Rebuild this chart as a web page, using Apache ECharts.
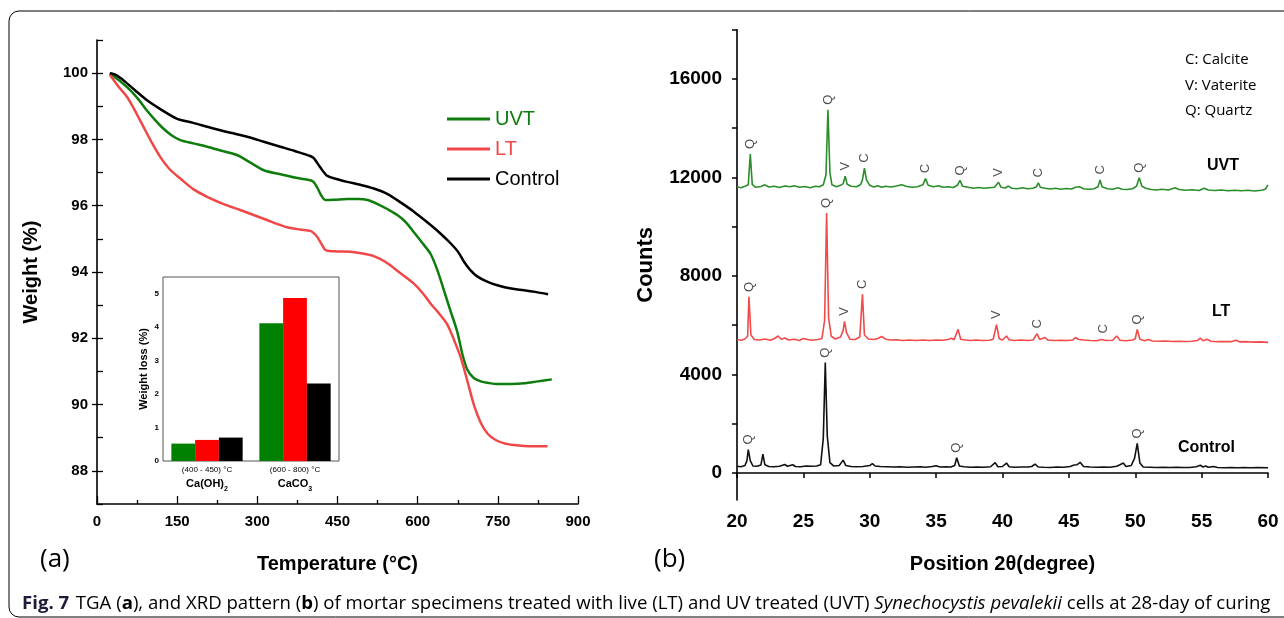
<!DOCTYPE html>
<html>
<head>
<meta charset="utf-8">
<script src="https://cdn.jsdelivr.net/npm/echarts@6/dist/echarts.min.js"></script>
<style>html,body{margin:0;padding:0;background:#fff}#c{width:1284px;height:618px}</style>
</head>
<body>
<div id="c"></div>
<script>
// ---------- TGA (panel a) : [temperature °C, weight %] ----------
const tgaUVT = [[24,100],[40,99.8],[62,99.49],[78,99.2],[93,98.88],[108,98.6],[124,98.33],[140,98.12],[156,97.98],[180,97.88],[206,97.78],[235,97.65],[262,97.53],[287,97.3],[312,97.07],[343,96.95],[370,96.85],[399,96.77],[405,96.72],[412,96.55],[420,96.3],[428,96.17],[445,96.18],[468,96.2],[490,96.2],[506,96.17],[525,96.05],[543,95.9],[562,95.72],[578,95.5],[593,95.2],[610,94.85],[624,94.55],[637,94.05],[649,93.45],[662,92.8],[674,92.2],[684,91.5],[693,91.05],[705,90.8],[718,90.7],[733,90.65],[749,90.62],[775,90.62],[799,90.64],[825,90.7],[851,90.76]];
const tgaLT = [[24,99.95],[40,99.6],[56,99.29],[70,98.9],[87,98.38],[102,97.92],[118,97.48],[136,97.1],[156,96.82],[180,96.5],[206,96.27],[237,96.05],[268,95.87],[293,95.72],[318,95.57],[337,95.45],[356,95.35],[380,95.28],[399,95.24],[405,95.18],[412,95.06],[420,94.85],[428,94.66],[450,94.62],[474,94.61],[497,94.56],[518,94.48],[540,94.3],[565,94.0],[593,93.65],[610,93.35],[624,93.05],[640,92.75],[656,92.4],[668,91.95],[681,91.4],[694,90.65],[706,89.95],[718,89.45],[731,89.12],[746,88.93],[762,88.83],[780,88.78],[799,88.75],[820,88.74],[843,88.74]];
const tgaControl = [[24,100],[35,99.95],[49,99.79],[70,99.5],[93,99.19],[120,98.9],[149,98.63],[180,98.5],[218,98.33],[250,98.2],[281,98.08],[312,97.93],[343,97.78],[370,97.65],[399,97.5],[406,97.43],[418,97.15],[431,96.9],[450,96.8],[468,96.72],[493,96.63],[518,96.52],[543,96.36],[568,96.1],[593,95.82],[618,95.5],[640,95.2],[662,94.86],[676,94.6],[687,94.3],[699,94.05],[712,93.86],[731,93.7],[749,93.6],[775,93.5],[799,93.45],[820,93.4],[844,93.33]];
const tgaNames = ['UVT','LT','Control'];
const tgaXTicks = [0,150,300,450,600,750,900];
const tgaYLabels = [88,90,92,94,96,98,100];
const tgaYMinor = [87,88,89,90,91,92,93,94,95,96,97,98,99,100,101];

// ---------- Inset bar chart : weight loss (%) ----------
const lossCategories = ['(400 - 450) °C|Ca(OH)|2', '(600 - 800) °C|CaCO|3'];
const lossUVT = [0.52, 4.12];
const lossLT = [0.63, 4.87];
const lossControl = [0.70, 2.32];
const lossTicks = [0,1,2,3,4,5];

// ---------- XRD (panel b) : [2θ, counts] ----------
const xrdUVT = [[20.0,11620],[20.3,11580],[20.6,11640],[20.85,11700],[21.0,12950],[21.15,11720],[21.4,11600],[21.8,11630],[22.1,11700],[22.4,11610],[22.8,11640],[23.2,11590],[23.6,11650],[24.0,11620],[24.3,11660],[24.7,11600],[25.1,11630],[25.5,11580],[25.9,11640],[26.2,11620],[26.5,11700],[26.7,12100],[26.85,14750],[27.0,12200],[27.15,11700],[27.5,11620],[27.8,11680],[28.0,11750],[28.15,12050],[28.3,11720],[28.6,11640],[29.0,11620],[29.3,11700],[29.45,11900],[29.6,12380],[29.75,11900],[30.0,11680],[30.3,11610],[30.6,11660],[30.9,11600],[31.2,11640],[31.6,11610],[32.0,11650],[32.4,11700],[32.8,11630],[33.2,11600],[33.6,11620],[34.0,11700],[34.2,11950],[34.4,11680],[34.8,11620],[35.2,11660],[35.5,11600],[35.9,11620],[36.3,11590],[36.6,11680],[36.8,11880],[37.0,11640],[37.4,11600],[37.8,11560],[38.2,11590],[38.6,11560],[39.0,11580],[39.4,11600],[39.7,11800],[39.9,11600],[40.2,11570],[40.45,11650],[40.7,11560],[41.1,11540],[41.5,11580],[41.9,11540],[42.3,11560],[42.55,11620],[42.7,11780],[42.85,11600],[43.2,11560],[43.6,11530],[44.0,11560],[44.4,11520],[44.8,11550],[45.2,11530],[45.5,11600],[45.8,11620],[46.1,11540],[46.5,11520],[46.9,11540],[47.2,11620],[47.35,11900],[47.5,11620],[47.9,11540],[48.3,11520],[48.7,11580],[49.0,11520],[49.4,11510],[49.8,11540],[50.1,11650],[50.3,11990],[50.5,11640],[50.8,11560],[51.2,11510],[51.6,11490],[52.0,11520],[52.5,11490],[53.0,11580],[53.3,11510],[53.8,11480],[54.3,11500],[54.8,11470],[55.2,11560],[55.5,11490],[56.0,11470],[56.5,11490],[57.0,11460],[57.5,11480],[58.0,11460],[58.5,11480],[59.0,11450],[59.5,11480],[59.8,11520],[60.0,11700]];
const xrdLT = [[20.0,5420],[20.3,5390],[20.6,5440],[20.8,5550],[20.9,7150],[21.05,5600],[21.3,5420],[21.7,5400],[22.1,5440],[22.5,5390],[22.8,5450],[23.1,5560],[23.35,5430],[23.6,5480],[23.9,5400],[24.3,5430],[24.7,5380],[25.0,5460],[25.3,5420],[25.7,5390],[26.1,5420],[26.4,5460],[26.6,6200],[26.75,10560],[26.9,6300],[27.1,5550],[27.4,5440],[27.8,5520],[28.0,5800],[28.1,6150],[28.25,5700],[28.5,5430],[28.9,5420],[29.25,5520],[29.45,7250],[29.6,5600],[29.9,5440],[30.3,5420],[30.6,5460],[30.9,5540],[31.2,5430],[31.6,5400],[32.0,5410],[32.5,5380],[33.0,5400],[33.5,5380],[34.0,5400],[34.5,5380],[35.0,5400],[35.5,5390],[35.9,5420],[36.15,5470],[36.35,5410],[36.65,5830],[36.85,5430],[37.2,5400],[37.6,5380],[38.0,5400],[38.5,5380],[39.0,5390],[39.3,5430],[39.55,6020],[39.75,5450],[40.0,5400],[40.3,5560],[40.5,5410],[40.9,5380],[41.4,5400],[41.9,5380],[42.3,5400],[42.6,5650],[42.8,5420],[43.2,5500],[43.4,5400],[43.9,5380],[44.4,5390],[44.9,5380],[45.3,5400],[45.5,5500],[45.7,5430],[45.85,5490],[46.1,5400],[46.6,5380],[47.1,5370],[47.45,5420],[47.6,5450],[47.8,5380],[48.3,5390],[48.6,5560],[48.85,5390],[49.3,5370],[49.8,5400],[50.0,5450],[50.15,5830],[50.35,5430],[50.7,5370],[51.0,5420],[51.3,5360],[51.8,5350],[52.3,5360],[52.8,5340],[53.3,5350],[53.8,5340],[54.3,5350],[54.7,5380],[54.9,5480],[55.1,5370],[55.4,5430],[55.7,5350],[56.2,5330],[56.7,5340],[57.2,5330],[57.6,5390],[57.9,5320],[58.4,5330],[58.9,5310],[59.4,5320],[60.0,5300]];
const xrdControl = [[20.0,270],[20.3,250],[20.6,300],[20.75,500],[20.85,950],[21.0,500],[21.2,280],[21.5,270],[21.8,320],[21.95,760],[22.1,330],[22.4,260],[22.8,250],[23.2,270],[23.6,340],[23.8,270],[24.2,330],[24.4,260],[24.8,250],[25.2,280],[25.6,270],[26.0,280],[26.3,330],[26.5,1400],[26.65,4480],[26.8,1500],[27.0,420],[27.3,280],[27.7,300],[28.0,520],[28.2,300],[28.6,260],[29.0,250],[29.5,260],[30.0,300],[30.2,380],[30.4,280],[30.8,260],[31.3,250],[31.8,240],[32.3,250],[32.8,230],[33.3,240],[33.8,250],[34.2,230],[34.7,260],[35.0,290],[35.3,240],[35.7,250],[36.1,240],[36.4,300],[36.55,620],[36.75,280],[37.1,250],[37.6,230],[38.1,240],[38.6,230],[39.1,250],[39.45,420],[39.65,250],[40.0,260],[40.3,400],[40.5,250],[40.9,230],[41.4,240],[41.9,240],[42.2,260],[42.45,360],[42.7,240],[43.1,230],[43.6,220],[44.1,240],[44.6,230],[45.1,260],[45.4,320],[45.6,330],[45.85,430],[46.1,260],[46.6,240],[47.1,230],[47.6,240],[48.1,230],[48.6,270],[48.85,330],[49.1,400],[49.3,260],[49.7,300],[49.95,600],[50.15,1200],[50.35,400],[50.6,240],[51.1,230],[51.6,220],[52.1,230],[52.6,220],[53.1,230],[53.6,220],[54.1,220],[54.6,250],[54.9,310],[55.1,240],[55.3,280],[55.5,230],[55.9,260],[56.2,220],[56.7,210],[57.2,220],[57.7,210],[58.2,220],[58.7,210],[59.2,220],[60.0,210]];
// peak tags: [phase letter, 2θ]
const tagsUVT = [['Q',21.0],['Q',26.85],['V',28.15],['C',29.6],['C',34.2],['Q',36.8],['V',39.7],['C',42.7],['C',47.35],['Q',50.3]];
const tagsLT = [['Q',20.9],['Q',26.75],['V',28.1],['C',29.45],['V',39.55],['C',42.6],['C',47.6],['Q',50.15]];
const tagsControl = [['Q',20.85],['Q',26.65],['Q',36.55],['Q',50.15]];
const xrdYLabels = [0,4000,8000,12000,16000];
const xrdYTicks = [0,2000,4000,6000,8000,10000,12000,14000,16000,18000];
const phaseKey = ['C: Calcite','V: Vaterite','Q: Quartz'];

const GREEN = '#0e7d0e', RED = '#f04848', BLACK = '#000';
const XG = '#2a8f2a', XR = '#f24a4a';
const SANS = "'Liberation Sans',Arial,sans-serif";
const plain = v => String(v);

function tagData(tags, series){
  return tags.map(([l,t]) => {
    let best = -Infinity;
    series.forEach(([x,y]) => { if (Math.abs(x - t) <= 0.2 && y > best) best = y; });
    return [t, best, l];
  });
}
function tagSeries(tags, series){
  return {
    type:'scatter', xAxisIndex:1, yAxisIndex:2, symbolSize:0, silent:true,
    data: tagData(tags, series),
    label:{show:true, position:'top', distance:10, rotate:90, align:'center', verticalAlign:'middle',
      formatter:p=>p.value[2], fontFamily:SANS, fontSize:13, color:'#222'}
  };
}

const chart = echarts.init(document.getElementById('c'));
const axisLineBlack = {show:true, lineStyle:{color:'#000', width:1.6}};
chart.setOption({
  animation:false,
  backgroundColor:'#fff',
  legend:{
    data:[{name:'UVT',textStyle:{color:GREEN}},{name:'LT',textStyle:{color:RED}},{name:'Control',textStyle:{color:BLACK}}],
    orient:'vertical', left:447, top:109, padding:0, itemWidth:43, itemHeight:3, itemGap:10, icon:'rect',
    textStyle:{fontSize:20, fontFamily:SANS, lineHeight:20}, selectedMode:false
  },
  grid:[
    {left:97, top:40, width:481, height:464},
    {left:737, top:29.7, width:531, height:470.3},
    {left:163, top:277, width:176, height:184, show:true, borderColor:'#555', borderWidth:1, backgroundColor:'#fff', z:3}
  ],
  xAxis:[
    {gridIndex:0, type:'value', min:0, max:900, interval:150,
      axisLine:axisLineBlack, axisTick:{inside:true, length:8, lineStyle:{color:'#000',width:1.3}},
      minorTick:{show:true, splitNumber:2, length:4, lineStyle:{color:'#000',width:1.3}},
      splitLine:{show:false},
      axisLabel:{fontFamily:SANS, fontWeight:'bold', fontSize:15, color:'#000', margin:10, formatter:plain},
      name:'Temperature (°C)', nameLocation:'middle', nameGap:50,
      nameTextStyle:{fontFamily:SANS, fontWeight:'bold', fontSize:20, color:'#000'}},
    {gridIndex:1, type:'value', min:20, max:60, interval:5,
      axisLine:axisLineBlack, axisTick:{inside:false, length:5, lineStyle:{color:'#000',width:1.5}},
      splitLine:{show:false},
      axisLabel:{fontFamily:SANS, fontWeight:'bold', fontSize:19, color:'#000', margin:12, formatter:plain},
      name:'Position 2θ(degree)', nameLocation:'middle', nameGap:54,
      nameTextStyle:{fontFamily:SANS, fontWeight:'bold', fontSize:20, color:'#000'}},
    {gridIndex:2, type:'category', data:lossCategories,
      axisLine:{show:false}, axisTick:{show:false}, splitLine:{show:false},
      axisLabel:{margin:3, interval:0,
        formatter:v=>{const p=v.split('|'); return '{a|'+p[0]+'}\n{b|'+p[1]+'}{s|'+p[2]+'}';},
        rich:{a:{fontFamily:SANS, fontSize:8, color:'#000', lineHeight:11},
              b:{fontFamily:SANS, fontWeight:'bold', fontSize:11, color:'#000', lineHeight:13},
              s:{fontFamily:SANS, fontWeight:'bold', fontSize:7, color:'#000', verticalAlign:'bottom', lineHeight:18}}}}
  ],
  yAxis:[
    {gridIndex:0, type:'value', min:87, max:101, position:'left',
      axisLine:axisLineBlack,
      axisTick:{inside:false, length:5, customValues:tgaYLabels, lineStyle:{color:'#000',width:1.3}},
      splitLine:{show:false},
      axisLabel:{customValues:tgaYLabels, fontFamily:SANS, fontWeight:'bold', fontSize:15, color:'#000', margin:9, formatter:plain},
      name:'Weight (%)', nameLocation:'middle', nameGap:56, nameRotate:90,
      nameTextStyle:{fontFamily:SANS, fontWeight:'bold', fontSize:20, color:'#000'}},
    {gridIndex:0, type:'value', min:87, max:101, position:'left',
      axisLine:{show:false},
      axisTick:{inside:true, length:6, customValues:tgaYMinor, lineStyle:{color:'#000',width:1.3}},
      splitLine:{show:false}, axisLabel:{show:false}},
    {gridIndex:1, type:'value', min:-1100, max:18000, position:'left',
      axisLine:axisLineBlack,
      axisTick:{inside:false, length:5, customValues:xrdYTicks, lineStyle:{color:'#000',width:1.5}},
      splitLine:{show:false},
      axisLabel:{customValues:xrdYLabels, fontFamily:SANS, fontWeight:'bold', fontSize:19, color:'#000', margin:15, formatter:plain},
      name:'Counts', nameLocation:'middle', nameGap:80, nameRotate:90,
      nameTextStyle:{fontFamily:SANS, fontWeight:'bold', fontSize:22, color:'#000'}},
    {gridIndex:2, type:'value', min:0, max:5.5, position:'left',
      axisLine:{show:false},
      axisTick:{inside:false, length:2, customValues:lossTicks, lineStyle:{color:'#555'}},
      splitLine:{show:false},
      axisLabel:{customValues:lossTicks, fontFamily:SANS, fontWeight:'bold', fontSize:8, color:'#000', margin:4, formatter:plain},
      name:'Weight loss (%)', nameLocation:'middle', nameGap:14, nameRotate:90,
      nameTextStyle:{fontFamily:SANS, fontWeight:'bold', fontSize:11, color:'#000'}}
  ],
  series:[
    {name:'UVT', type:'line', xAxisIndex:0, yAxisIndex:0, data:tgaUVT, symbol:'none', smooth:0.3, lineStyle:{color:GREEN, width:2.5}, itemStyle:{color:GREEN}},
    {name:'LT', type:'line', xAxisIndex:0, yAxisIndex:0, data:tgaLT, symbol:'none', smooth:0.3, lineStyle:{color:RED, width:2.5}, itemStyle:{color:RED}},
    {name:'Control', type:'line', xAxisIndex:0, yAxisIndex:0, data:tgaControl, symbol:'none', smooth:0.3, lineStyle:{color:BLACK, width:2.5}, itemStyle:{color:BLACK}},
    {name:'UVT loss', type:'bar', xAxisIndex:2, yAxisIndex:3, data:lossUVT, barGap:'0%', barCategoryGap:'19%', itemStyle:{color:'#008000'}, z:4},
    {name:'LT loss', type:'bar', xAxisIndex:2, yAxisIndex:3, data:lossLT, barGap:'0%', barCategoryGap:'19%', itemStyle:{color:'#ff0000'}, z:4},
    {name:'Control loss', type:'bar', xAxisIndex:2, yAxisIndex:3, data:lossControl, barGap:'0%', barCategoryGap:'19%', itemStyle:{color:'#000'}, z:4},
    {name:'UVT XRD', type:'line', xAxisIndex:1, yAxisIndex:2, data:xrdUVT, symbol:'none', lineStyle:{color:XG, width:1.6}},
    {name:'LT XRD', type:'line', xAxisIndex:1, yAxisIndex:2, data:xrdLT, symbol:'none', lineStyle:{color:XR, width:1.6}},
    {name:'Control XRD', type:'line', xAxisIndex:1, yAxisIndex:2, data:xrdControl, symbol:'none', lineStyle:{color:'#111', width:1.6}},
    tagSeries(tagsUVT, xrdUVT),
    tagSeries(tagsLT, xrdLT),
    tagSeries(tagsControl, xrdControl)
  ],
  graphic:[
    {type:'rect', shape:{x:9, y:11, width:1300, height:606, r:10}, style:{fill:'none', stroke:'#000', lineWidth:1}, silent:true},
    {type:'text', left:40, top:547, style:{text:'(a)', font:"26px 'Open Sans', sans-serif", fill:'#000'}},
    {type:'text', left:654, top:547, style:{text:'(b)', font:"26px 'Open Sans', sans-serif", fill:'#000'}},
    {type:'text', left:1185, top:47, style:{text:phaseKey.join('\n'), font:"15px 'Open Sans', sans-serif", lineHeight:25.5, fill:'#000'}},
    {type:'text', left:1207, top:158, style:{text:'UVT', font:"bold 16px 'Liberation Sans', sans-serif", fill:'#000'}},
    {type:'text', left:1212, top:304, style:{text:'LT', font:"bold 16px 'Liberation Sans', sans-serif", fill:'#000'}},
    {type:'text', left:1178, top:440, style:{text:'Control', font:"bold 16px 'Liberation Sans', sans-serif", fill:'#000'}},
    {type:'text', left:22, top:594, style:{
      text:'{b|Fig. 7}  {n|TGA (}{nb|a}{n|), and XRD pattern (}{nb|b}{n|) of mortar specimens treated with live (LT) and UV treated (UVT) }{i|Synechocystis pevalekii}{n| cells at 28-day of curing}',
      rich:{
        b:{fontFamily:"'Open Sans',sans-serif", fontWeight:'bold', fontSize:18.6, fill:'#1b1b3a'},
        n:{fontFamily:"'Open Sans',sans-serif", fontSize:18.6, fill:'#000'},
        nb:{fontFamily:"'Open Sans',sans-serif", fontWeight:'bold', fontSize:18.6, fill:'#000'},
        i:{fontFamily:"'Open Sans',sans-serif", fontStyle:'italic', fontSize:18.6, fill:'#000'}
      }}}
  ]
});
</script>
</body>
</html>
